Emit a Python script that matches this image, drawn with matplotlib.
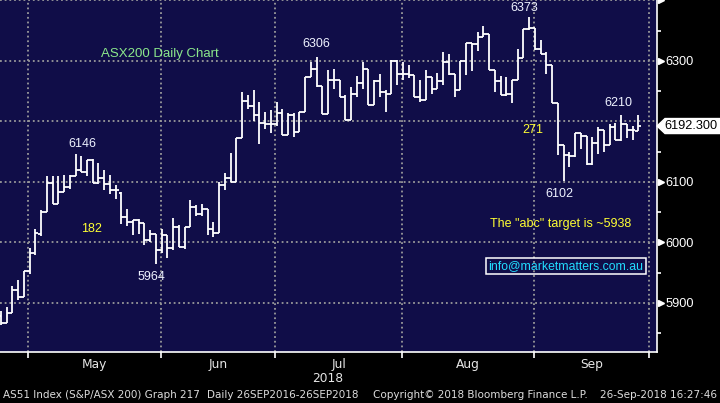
import matplotlib
matplotlib.use("Agg")
import matplotlib.pyplot as plt
import matplotlib.transforms as mtransforms
from matplotlib.patches import Polygon, Rectangle

# ASX200 daily OHLC, late Apr 2018 -> 26 Sep 2018
bar_open = [5878, 5867, 5884, 5921, 5910, 5953, 5982, 6014, 6050, 6098,
            6064, 6084, 6091, 6109, 6119, 6117, 6136, 6098, 6106, 6097,
            6087, 6082, 6042, 6033, 6037, 6032, 6004, 6014, 5988, 6012,
            5990, 6026, 5993, 6025, 6059, 6047, 6055, 6023, 6016, 6095,
            6106, 6100, 6172, 6233, 6226, 6210, 6197, 6195, 6195, 6213,
            6177, 6210, 6183, 6216, 6274, 6286, 6258, 6212, 6268, 6268,
            6240, 6203, 6245, 6264, 6286, 6227, 6266, 6249, 6245, 6300,
            6279, 6279, 6276, 6240, 6235, 6273, 6253, 6267, 6298, 6278,
            6252, 6300, 6329, 6328, 6339, 6345, 6285, 6267, 6243, 6245,
            6268, 6304, 6352, 6354, 6319, 6312, 6293, 6230, 6161, 6144,
            6142, 6180, 6176, 6129, 6164, 6185, 6161, 6190, 6169, 6195,
            6185, 6184]
bar_high = [5887, 5894, 5928, 5938, 5953, 5990, 6022, 6054, 6110, 6110,
            6110, 6111, 6111, 6146, 6142, 6136, 6138, 6131, 6120, 6112,
            6095, 6084, 6056, 6037, 6039, 6032, 6021, 6014, 6023, 6012,
            6040, 6029, 6025, 6070, 6062, 6064, 6056, 6033, 6100, 6115,
            6147, 6172, 6249, 6244, 6252, 6232, 6216, 6219, 6232, 6221,
            6213, 6213, 6216, 6274, 6298, 6306, 6258, 6285, 6287, 6268,
            6243, 6256, 6275, 6298, 6286, 6268, 6279, 6252, 6302, 6302,
            6298, 6293, 6276, 6269, 6285, 6273, 6280, 6315, 6312, 6278,
            6300, 6329, 6330, 6348, 6357, 6345, 6285, 6275, 6273, 6269,
            6319, 6352, 6373, 6354, 6334, 6315, 6293, 6230, 6161, 6150,
            6181, 6181, 6176, 6174, 6190, 6185, 6195, 6197, 6210, 6195,
            6192, 6210]
bar_low = [5864, 5867, 5884, 5905, 5910, 5948, 5979, 6010, 6050, 6064,
           6064, 6084, 6088, 6109, 6116, 6110, 6098, 6097, 6087, 6080,
           6071, 6031, 6027, 6012, 6014, 5996, 6000, 5964, 5982, 5974,
           5988, 5992, 5989, 6025, 6044, 6043, 6012, 6009, 6016, 6086,
           6100, 6100, 6172, 6220, 6200, 6162, 6188, 6180, 6192, 6177,
           6177, 6174, 6183, 6216, 6274, 6257, 6212, 6212, 6254, 6240,
           6203, 6203, 6240, 6254, 6227, 6227, 6240, 6216, 6245, 6260,
           6269, 6271, 6240, 6232, 6235, 6245, 6253, 6260, 6276, 6240,
           6252, 6276, 6283, 6317, 6339, 6285, 6249, 6243, 6242, 6231,
           6268, 6304, 6351, 6318, 6311, 6278, 6230, 6144, 6102, 6125,
           6141, 6155, 6128, 6128, 6146, 6150, 6161, 6169, 6168, 6172,
           6169, 6184]
bar_close = [5867, 5884, 5921, 5910, 5953, 5982, 6016, 6050, 6098, 6064,
             6084, 6091, 6109, 6119, 6117, 6136, 6098, 6106, 6097, 6087,
             6086, 6042, 6033, 6037, 6032, 6004, 6014, 5988, 6012, 5990,
             6026, 5993, 6025, 6059, 6047, 6055, 6023, 6016, 6095, 6106,
             6100, 6172, 6233, 6226, 6210, 6197, 6195, 6195, 6213, 6177,
             6210, 6183, 6216, 6274, 6286, 6258, 6212, 6268, 6268, 6240,
             6203, 6245, 6264, 6286, 6227, 6266, 6249, 6245, 6300, 6279,
             6279, 6276, 6240, 6235, 6273, 6253, 6267, 6298, 6278, 6252,
             6300, 6329, 6328, 6339, 6345, 6285, 6267, 6243, 6245, 6268,
             6304, 6352, 6354, 6319, 6312, 6293, 6230, 6161, 6144, 6142,
             6180, 6176, 6129, 6164, 6185, 6161, 6190, 6169, 6195, 6185,
             6185, 6192.3]

# first bar index of each month (May .. Oct)
month_starts = [5, 28, 48, 70, 93, 113]
month_names = ["May", "Jun", "Jul", "Aug", "Sep"]
y_labels = [5900, 6000, 6100, 6300]
last_price = bar_close[-1]

navy = "#100d48"
fig = plt.figure(figsize=(7.2, 4.03), dpi=100, facecolor="black")
ax = fig.add_axes([0, 51 / 403, 657 / 720, 352 / 403])
ax.set_facecolor(navy)

x = list(range(len(bar_close)))
ax.vlines(x, bar_low, bar_high, color="white", lw=1.3, zorder=3)
ax.hlines(bar_open, [i - 0.5 for i in x], x, color="white", lw=1.3, zorder=3)
ax.hlines(bar_close, x, [i + 0.5 for i in x], color="white", lw=1.3, zorder=3)

ax.set_xlim(-0.15, 114.25)
ax.set_ylim(5819, 6400.5)

# grid
grid_kw = dict(color="#9a9a9a", lw=1.3, ls=(0, (1, 1.6)), zorder=1)
for m in month_starts:
    ax.axvline(m - 0.2, **grid_kw)
for v in range(5900, 6401, 100):
    ax.axhline(v, **grid_kw)

for s in ["left", "top"]:
    ax.spines[s].set_visible(False)
for s in ["bottom", "right"]:
    ax.spines[s].set_color("white")
    ax.spines[s].set_linewidth(1.2)

# x axis: ticks at month edges, labels in the middle
ax.set_xticks([m - 0.2 for m in month_starts])
ax.set_xticklabels([])
ax.set_xticks([(a + b) / 2 - 0.2 for a, b in zip(month_starts[:-1], month_starts[1:])], minor=True)
ax.set_xticklabels(month_names, minor=True)
ax.tick_params(axis="x", which="major", colors="white", length=4, width=1.2)
ax.tick_params(axis="x", which="minor", length=0, pad=4, labelcolor="#e6e6e6",
               labelsize=8.8)

# y axis on the right
ax.yaxis.tick_right()
ax.set_yticks(y_labels)
ax.set_yticklabels([str(v) for v in y_labels])
ax.set_yticks(list(range(5850, 6400, 100)), minor=True)
ax.tick_params(axis="y", which="major", length=0, pad=6, labelcolor="white",
               labelsize=9.2)
ax.tick_params(axis="y", which="minor", length=3, width=1.2, color="white")
for lab in ax.get_yticklabels():
    lab.set_family("Liberation Sans")
for lab in ax.get_xticklabels(minor=True):
    lab.set_family("DejaVu Sans")

trans = mtransforms.blended_transform_factory(ax.transAxes, ax.transData)
for v in y_labels + [6400]:
    ax.plot([1.0 + 3.5 / 657], [v], marker=">", ms=5, color="white", mec="white",
            transform=trans, clip_on=False, zorder=5)

# last price tag
h = 12.4
tag = Polygon([(1.0, last_price), (1.0 + 8 / 657, last_price + h), (1.1, last_price + h),
               (1.1, last_price - h), (1.0 + 8 / 657, last_price - h)],
              closed=True, transform=trans, clip_on=False, fc="white", ec="white", zorder=6)
ax.add_patch(tag)
ax.text(691 / 657, last_price, "%.3f" % last_price, transform=trans, ha="center",
        va="center", color="black", fontsize=9.2, family="Liberation Sans", zorder=7,
        clip_on=False)

# annotations (axes fraction positions)
def px(xp, yp):
    return xp / 657, 1 - yp / 352

lab_kw = dict(transform=ax.transAxes, ha="center", va="center", fontsize=9,
              family="Liberation Sans", zorder=6)
white = "#eef2ff"
yellow = "#ffff33"
ax.text(*px(160, 54), "ASX200 Daily Chart", color="#8be88b", fontsize=9.5,
        transform=ax.transAxes, ha="center", va="center", family="Liberation Sans")
ax.text(*px(316, 44), "6306", color=white, **lab_kw)
ax.text(*px(82, 144), "6146", color=white, **lab_kw)
ax.text(*px(91, 229), "182", color=yellow, **lab_kw)
ax.text(*px(151, 277), "5964", color=white, **lab_kw)
ax.text(*px(524, 8), "6373", color=white, **lab_kw)
ax.text(*px(533, 130), "271", color=yellow, **lab_kw)
ax.text(*px(618, 103), "6210", color=white, **lab_kw)
ax.text(*px(559, 194), "6102", color=white, **lab_kw)
ax.text(*px(561, 224), 'The "abc" target is ~5938', color=yellow, **lab_kw)
ax.text(*px(566, 266), "info@marketmatters.com.au", color="#22ddff",
        **dict(lab_kw, fontsize=8.8))
x0, y0 = px(486, 274)
x1, y1 = px(646, 258)
ax.add_patch(Rectangle((x0, y0), x1 - x0, y1 - y0, transform=ax.transAxes,
                       fill=False, ec="white", lw=1.1, zorder=6))

# footer
foot_kw = dict(color="#dcdcdc", fontsize=7.5, family="DejaVu Sans", va="center")
fig.text(328 / 720, 1 - 378 / 403, "2018", ha="center", color="#e6e6e6",
         fontsize=8.8, family="DejaVu Sans", va="center")
fig.text(3 / 720, 1 - 395 / 403, "AS51 Index (S&P/ASX 200) Graph 217", ha="left", **foot_kw)
fig.text(207 / 720, 1 - 395 / 403, "Daily 26SEP2016-26SEP2018", ha="left", **foot_kw)
fig.text(373 / 720, 1 - 395 / 403, "Copyright\u00a9 2018 Bloomberg Finance L.P.", ha="left", **foot_kw)
fig.text(717 / 720, 1 - 395 / 403, "26-Sep-2018 16:27:46", ha="right", **foot_kw)

fig.savefig("out.png", dpi=100, facecolor="black")
plt.close(fig)
